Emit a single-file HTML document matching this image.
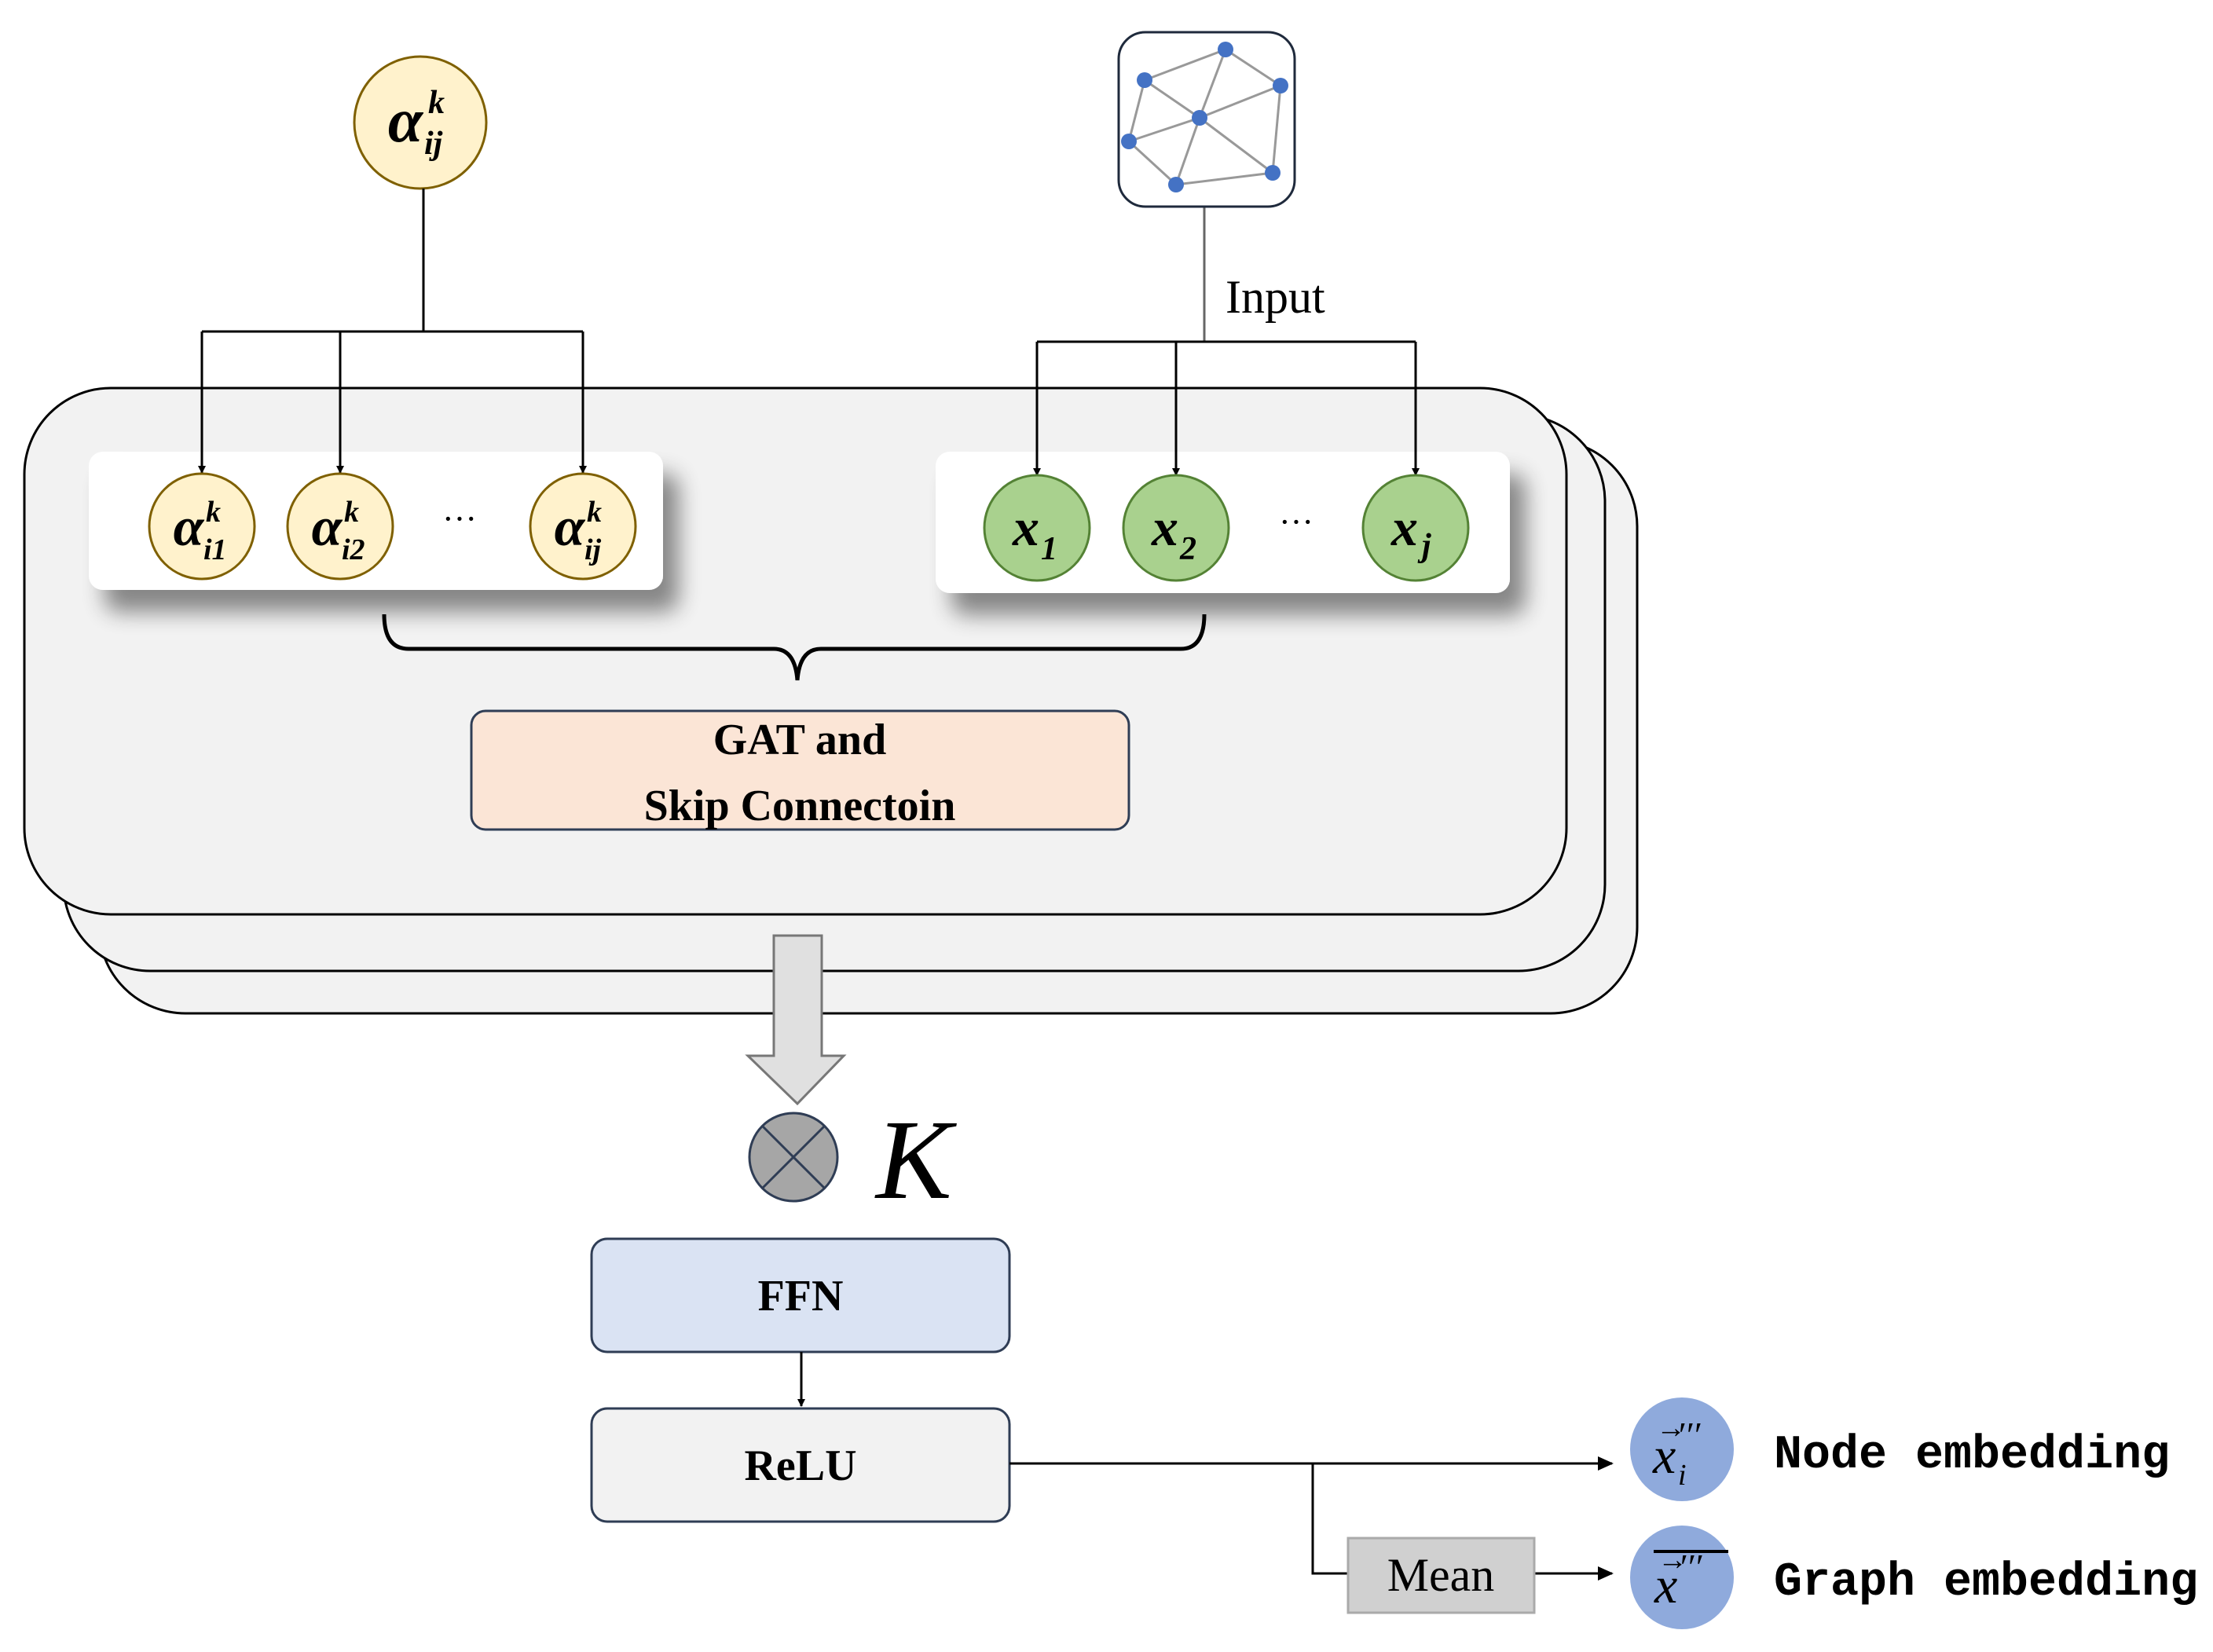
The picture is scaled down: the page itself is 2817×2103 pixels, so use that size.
<!DOCTYPE html>
<html><head><meta charset="utf-8"><style>
html,body{margin:0;padding:0;background:#fff;}
svg{display:block;}
</style></head><body>
<svg width="2817" height="2103" viewBox="0 0 2817 2103" xmlns="http://www.w3.org/2000/svg">
<defs>
<marker id="ah" markerWidth="10" markerHeight="10" refX="9" refY="5" orient="auto" markerUnits="userSpaceOnUse" viewBox="0 0 10 10">
<path d="M0,0 L10,5 L0,10 z" fill="#000"/></marker>
<marker id="ah2" markerWidth="20" markerHeight="18" refX="18" refY="9" orient="auto" markerUnits="userSpaceOnUse" viewBox="0 0 20 18">
<path d="M0,0 L20,9 L0,18 z" fill="#000"/></marker>
<filter id="sh" x="-10%" y="-20%" width="130%" height="170%">
<feGaussianBlur in="SourceAlpha" stdDeviation="14"/><feOffset dx="20" dy="28"/>
<feComponentTransfer><feFuncA type="linear" slope="0.45"/></feComponentTransfer>
<feMerge><feMergeNode/><feMergeNode in="SourceGraphic"/></feMerge></filter>
</defs>
<g font-family="Liberation Serif, serif">
<rect x="126" y="560" width="1958" height="730" rx="110" fill="#f2f2f2" stroke="#000" stroke-width="3"/>
<rect x="81" y="528" width="1962" height="708" rx="110" fill="#f2f2f2" stroke="#000" stroke-width="3"/>
<rect x="31" y="494" width="1963" height="670" rx="110" fill="#f2f2f2" stroke="#000" stroke-width="3"/>
<rect x="113" y="575" width="731" height="176" rx="18" fill="#fff" filter="url(#sh)"/>
<rect x="1191" y="575" width="731" height="180" rx="18" fill="#fff" filter="url(#sh)"/>
<circle cx="535" cy="156" r="84" fill="#fff2cc" stroke="#7f6000" stroke-width="3"/>
<g font-style="italic" font-weight="bold">
<text x="516" y="180" font-size="80" text-anchor="middle">α</text>
<text x="545" y="144" font-size="42">k</text>
<text x="540" y="196" font-size="42">ij</text>
</g>
<g stroke="#000" stroke-width="3" fill="none">
<path d="M539,240 V422"/><path d="M257,422 H742"/>
<path d="M257,422 V602" marker-end="url(#ah)"/>
<path d="M433,422 V602" marker-end="url(#ah)"/>
<path d="M742,422 V602" marker-end="url(#ah)"/>
<path d="M1533,264 V435" stroke="#666"/><path d="M1320,435 H1802"/>
<path d="M1320,435 V605" marker-end="url(#ah)"/>
<path d="M1497,435 V605" marker-end="url(#ah)"/>
<path d="M1802,435 V605" marker-end="url(#ah)"/>
</g>
<text x="1560" y="398" font-size="60">Input</text>
<rect x="1424" y="41" width="224" height="222" rx="34" fill="#fff" stroke="#1f2a3c" stroke-width="3"/>
<g stroke="#999" stroke-width="3">
<line x1="1560" y1="63" x2="1457" y2="102"/><line x1="1560" y1="63" x2="1630" y2="109"/>
<line x1="1560" y1="63" x2="1527" y2="150"/><line x1="1457" y1="102" x2="1527" y2="150"/>
<line x1="1457" y1="102" x2="1437" y2="180"/><line x1="1527" y1="150" x2="1630" y2="109"/>
<line x1="1527" y1="150" x2="1437" y2="180"/><line x1="1527" y1="150" x2="1497" y2="235"/>
<line x1="1527" y1="150" x2="1620" y2="220"/><line x1="1437" y1="180" x2="1497" y2="235"/>
<line x1="1497" y1="235" x2="1620" y2="220"/><line x1="1630" y1="109" x2="1620" y2="220"/>
</g>
<g fill="#4472c4">
<circle cx="1560" cy="63" r="10"/><circle cx="1457" cy="102" r="10"/><circle cx="1630" cy="109" r="10"/>
<circle cx="1527" cy="150" r="10"/><circle cx="1437" cy="180" r="10"/><circle cx="1497" cy="235" r="10"/>
<circle cx="1620" cy="220" r="10"/></g>
<g font-style="italic" font-weight="bold">
<circle cx="257" cy="670" r="67" fill="#fff2cc" stroke="#7f6000" stroke-width="3"/>
<text x="240" y="694" font-size="70" text-anchor="middle">α</text>
<text x="262" y="664" font-size="38">k</text><text x="259" y="712" font-size="38">i1</text>
<circle cx="433" cy="670" r="67" fill="#fff2cc" stroke="#7f6000" stroke-width="3"/>
<text x="416" y="694" font-size="70" text-anchor="middle">α</text>
<text x="438" y="664" font-size="38">k</text><text x="435" y="712" font-size="38">i2</text>
<circle cx="742" cy="670" r="67" fill="#fff2cc" stroke="#7f6000" stroke-width="3"/>
<text x="725" y="694" font-size="70" text-anchor="middle">α</text>
<text x="747" y="664" font-size="38">k</text><text x="744" y="712" font-size="38">ij</text>
</g>
<text x="585" y="675" font-size="44" text-anchor="middle">···</text>
<text x="1650" y="679" font-size="44" text-anchor="middle">···</text>
<g font-style="italic" font-weight="bold">
<circle cx="1320" cy="672" r="67" fill="#a9d18e" stroke="#548235" stroke-width="3"/>
<text x="1306" y="694" font-size="68" text-anchor="middle">x</text><text x="1325" y="712" font-size="42">1</text>
<circle cx="1497" cy="672" r="67" fill="#a9d18e" stroke="#548235" stroke-width="3"/>
<text x="1483" y="694" font-size="68" text-anchor="middle">x</text><text x="1502" y="712" font-size="42">2</text>
<circle cx="1802" cy="672" r="67" fill="#a9d18e" stroke="#548235" stroke-width="3"/>
<text x="1788" y="694" font-size="68" text-anchor="middle">x</text><text x="1810" y="708" font-size="42">j</text>
</g>
<path d="M489,782 Q489,826 520,826 L985,826 Q1012,826 1015,866 Q1018,826 1045,826 L1503,826 Q1533,826 1533,782" fill="none" stroke="#000" stroke-width="5"/>
<rect x="600" y="905" width="837" height="151" rx="18" fill="#fbe5d6" stroke="#2f3d55" stroke-width="3"/>
<text x="1018" y="960" font-size="56" font-weight="bold" text-anchor="middle">GAT and</text>
<text x="1018" y="1044" font-size="56" font-weight="bold" text-anchor="middle">Skip Connectoin</text>
<path d="M985,1191 H1046 V1344 H1074 L1015,1405 L952,1344 H985 Z" fill="#e0e0e0" stroke="#777" stroke-width="3"/>
<circle cx="1010" cy="1473" r="56" fill="#a6a6a6" stroke="#2f3d55" stroke-width="3"/>
<line x1="970" y1="1433" x2="1050" y2="1513" stroke="#2f3d55" stroke-width="3"/>
<line x1="1050" y1="1433" x2="970" y2="1513" stroke="#2f3d55" stroke-width="3"/>
<text x="1115" y="1525" font-size="145" font-style="italic">K</text>
<rect x="753" y="1577" width="532" height="144" rx="20" fill="#dae3f3" stroke="#2f3d55" stroke-width="3"/>
<text x="1019" y="1668" font-size="56" font-weight="bold" text-anchor="middle">FFN</text>
<path d="M1020,1721 V1790" stroke="#000" stroke-width="3" marker-end="url(#ah)"/>
<rect x="753" y="1793" width="532" height="144" rx="20" fill="#f2f2f2" stroke="#2f3d55" stroke-width="3"/>
<text x="1019" y="1884" font-size="56" font-weight="bold" text-anchor="middle">ReLU</text>
<g stroke="#000" stroke-width="3" fill="none">
<path d="M1285,1863 H2052" marker-end="url(#ah2)"/>
<path d="M1671,1863 V2003 H1716"/>
<path d="M1953,2003 H2052" marker-end="url(#ah2)"/>
</g>
<rect x="1716" y="1958" width="237" height="95" fill="#d0d0d0" stroke="#aaa" stroke-width="3"/>
<text x="1834" y="2025" font-size="60" text-anchor="middle">Mean</text>
<circle cx="2141" cy="1845" r="66" fill="#8faadc"/>
<circle cx="2141" cy="2008" r="66" fill="#8faadc"/>
<g font-style="italic">
<text x="2104" y="1875" font-size="66">x</text><text x="2136" y="1890" font-size="38">i</text>
<text x="2134" y="1842" font-size="46">′′′</text>
<text x="2108" y="1830" font-size="38">→</text>
<text x="2106" y="2040" font-size="66">x</text><text x="2136" y="2010" font-size="46">′′′</text>
<text x="2110" y="1998" font-size="38">→</text>
</g>
<line x1="2105" y1="1975" x2="2200" y2="1975" stroke="#000" stroke-width="4"/>
<g font-family="Liberation Mono, monospace" font-weight="bold" font-size="60">
<text x="2258" y="1868">Node embedding</text>
<text x="2258" y="2030">Graph embedding</text>
</g>
</g>
</svg>
</body></html>
